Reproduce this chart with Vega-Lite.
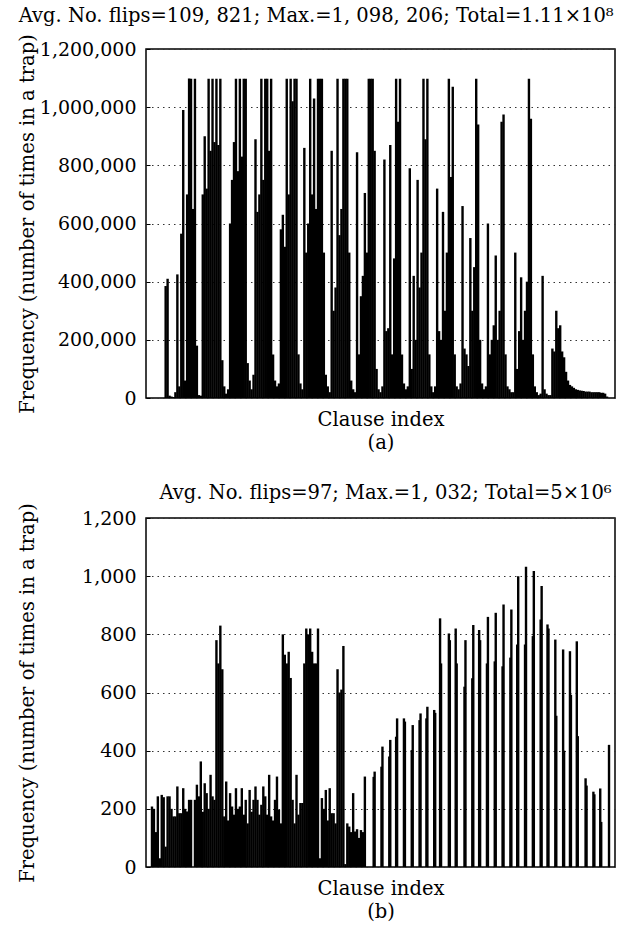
{
  "$schema": "https://vega.github.io/schema/vega-lite/v6.json",
  "background": "white",
  "padding": {"left": 16, "top": 5, "right": 10, "bottom": 4},
  "config": {
    "font": "DejaVu Serif",
    "view": {"stroke": "black", "strokeWidth": 1.5},
    "axis": {"labelFont": "DejaVu Serif", "titleFont": "DejaVu Serif", "labelColor": "black", "titleColor": "black", "titleFontWeight": "normal", "domain": false},
    "title": {"font": "DejaVu Serif", "fontSize": 19.5, "fontWeight": "normal", "color": "black", "anchor": "middle"},
    "concat": {"spacing": 29}
  },
  "datasets": {
    "a": [
      {"clause":1,"flips":0},{"clause":3,"flips":0},{"clause":5,"flips":0},{"clause":7,"flips":0},{"clause":9,"flips":0},{"clause":11,"flips":0},{"clause":13,"flips":0},
      {"clause":15,"flips":385000},{"clause":17,"flips":410000},{"clause":19,"flips":8000},{"clause":21,"flips":5000},{"clause":23,"flips":3000},{"clause":25,"flips":20000},{"clause":27,"flips":425000},{"clause":29,"flips":40000},{"clause":31,"flips":565000},{"clause":33,"flips":990000},{"clause":35,"flips":60000},{"clause":37,"flips":700000},{"clause":39,"flips":1098206},{"clause":41,"flips":1098000},{"clause":43,"flips":650000},{"clause":45,"flips":1098000},{"clause":47,"flips":180000},{"clause":49,"flips":10000},{"clause":51,"flips":8000},
      {"clause":53,"flips":700000},{"clause":55,"flips":900000},{"clause":57,"flips":720000},{"clause":59,"flips":1098000},{"clause":61,"flips":850000},{"clause":63,"flips":1098000},{"clause":65,"flips":880000},{"clause":67,"flips":1098000},{"clause":69,"flips":870000},{"clause":71,"flips":1098000},
      {"clause":73,"flips":130000},{"clause":75,"flips":40000},{"clause":77,"flips":15000},{"clause":79,"flips":30000},
      {"clause":81,"flips":600000},{"clause":83,"flips":750000},{"clause":85,"flips":880000},{"clause":87,"flips":1098000},{"clause":89,"flips":780000},{"clause":91,"flips":1098000},{"clause":93,"flips":830000},{"clause":95,"flips":1098000},{"clause":97,"flips":1098000},
      {"clause":99,"flips":120000},{"clause":101,"flips":60000},{"clause":103,"flips":30000},{"clause":105,"flips":80000},
      {"clause":107,"flips":890000},{"clause":109,"flips":640000},{"clause":111,"flips":700000},{"clause":113,"flips":1098000},{"clause":115,"flips":750000},{"clause":117,"flips":1098000},{"clause":119,"flips":1098000},{"clause":121,"flips":850000},{"clause":123,"flips":1098000},
      {"clause":125,"flips":150000},{"clause":127,"flips":60000},{"clause":129,"flips":40000},{"clause":131,"flips":50000},
      {"clause":133,"flips":580000},{"clause":135,"flips":630000},{"clause":137,"flips":520000},{"clause":139,"flips":1098000},{"clause":141,"flips":700000},{"clause":143,"flips":1098000},{"clause":145,"flips":1020000},{"clause":147,"flips":1098000},{"clause":149,"flips":1098000},
      {"clause":151,"flips":150000},{"clause":153,"flips":50000},{"clause":155,"flips":30000},
      {"clause":157,"flips":860000},{"clause":159,"flips":500000},{"clause":161,"flips":600000},{"clause":163,"flips":1098000},{"clause":165,"flips":700000},{"clause":167,"flips":1030000},{"clause":169,"flips":650000},{"clause":171,"flips":1098000},{"clause":173,"flips":1098000},{"clause":175,"flips":1098000},{"clause":177,"flips":500000},
      {"clause":179,"flips":80000},{"clause":181,"flips":40000},{"clause":183,"flips":20000},
      {"clause":185,"flips":850000},{"clause":187,"flips":300000},{"clause":189,"flips":380000},{"clause":191,"flips":1098000},{"clause":193,"flips":560000},{"clause":195,"flips":650000},{"clause":197,"flips":1098000},{"clause":199,"flips":1098000},{"clause":201,"flips":1098000},{"clause":203,"flips":500000},
      {"clause":205,"flips":60000},{"clause":207,"flips":30000},{"clause":209,"flips":20000},
      {"clause":211,"flips":845000},{"clause":213,"flips":150000},{"clause":215,"flips":350000},{"clause":217,"flips":420000},{"clause":219,"flips":705000},{"clause":221,"flips":500000},{"clause":223,"flips":1098000},{"clause":225,"flips":1098000},{"clause":227,"flips":1098000},{"clause":229,"flips":850000},
      {"clause":231,"flips":100000},{"clause":233,"flips":30000},{"clause":235,"flips":20000},{"clause":237,"flips":40000},
      {"clause":239,"flips":820000},{"clause":241,"flips":230000},{"clause":243,"flips":240000},{"clause":245,"flips":870000},{"clause":247,"flips":150000},{"clause":249,"flips":480000},{"clause":251,"flips":1098000},{"clause":253,"flips":950000},{"clause":255,"flips":1098000},
      {"clause":257,"flips":150000},{"clause":259,"flips":50000},{"clause":261,"flips":30000},{"clause":263,"flips":40000},
      {"clause":265,"flips":790000},{"clause":267,"flips":100000},{"clause":269,"flips":420000},{"clause":271,"flips":200000},{"clause":273,"flips":750000},{"clause":275,"flips":380000},{"clause":277,"flips":500000},{"clause":279,"flips":1098000},{"clause":281,"flips":890000},{"clause":283,"flips":1098000},
      {"clause":285,"flips":150000},{"clause":287,"flips":40000},{"clause":289,"flips":20000},{"clause":291,"flips":40000},
      {"clause":293,"flips":720000},{"clause":295,"flips":230000},{"clause":297,"flips":200000},{"clause":299,"flips":640000},{"clause":301,"flips":300000},{"clause":303,"flips":500000},{"clause":305,"flips":1098000},{"clause":307,"flips":760000},{"clause":309,"flips":1070000},
      {"clause":311,"flips":150000},{"clause":313,"flips":40000},{"clause":315,"flips":30000},{"clause":317,"flips":50000},
      {"clause":319,"flips":660000},{"clause":321,"flips":170000},{"clause":323,"flips":150000},{"clause":325,"flips":110000},{"clause":327,"flips":550000},{"clause":329,"flips":300000},{"clause":331,"flips":450000},{"clause":333,"flips":1098000},{"clause":335,"flips":940000},
      {"clause":337,"flips":200000},{"clause":339,"flips":50000},{"clause":341,"flips":30000},{"clause":343,"flips":40000},
      {"clause":345,"flips":600000},{"clause":347,"flips":150000},{"clause":349,"flips":200000},{"clause":351,"flips":250000},{"clause":353,"flips":490000},{"clause":355,"flips":200000},{"clause":357,"flips":300000},{"clause":359,"flips":950000},{"clause":361,"flips":975000},
      {"clause":363,"flips":150000},{"clause":365,"flips":40000},{"clause":367,"flips":30000},{"clause":369,"flips":20000},{"clause":371,"flips":20000},
      {"clause":373,"flips":500000},{"clause":375,"flips":100000},{"clause":377,"flips":230000},{"clause":379,"flips":415000},{"clause":381,"flips":200000},{"clause":383,"flips":300000},{"clause":385,"flips":400000},{"clause":387,"flips":1098000},{"clause":389,"flips":960000},
      {"clause":391,"flips":150000},{"clause":393,"flips":40000},{"clause":395,"flips":20000},{"clause":397,"flips":10000},{"clause":399,"flips":15000},
      {"clause":401,"flips":420000},{"clause":403,"flips":30000},{"clause":405,"flips":15000},{"clause":407,"flips":10000},{"clause":409,"flips":10000},
      {"clause":411,"flips":170000},{"clause":413,"flips":160000},{"clause":415,"flips":300000},{"clause":417,"flips":240000},{"clause":419,"flips":250000},{"clause":421,"flips":160000},{"clause":423,"flips":140000},
      {"clause":425,"flips":90000},{"clause":427,"flips":60000},{"clause":429,"flips":45000},{"clause":431,"flips":40000},{"clause":433,"flips":35000},{"clause":435,"flips":30000},{"clause":437,"flips":28000},{"clause":439,"flips":26000},{"clause":441,"flips":25000},{"clause":443,"flips":24000},{"clause":445,"flips":22000},{"clause":447,"flips":22000},{"clause":449,"flips":22000},{"clause":451,"flips":20000},{"clause":453,"flips":20000},{"clause":455,"flips":20000},{"clause":457,"flips":20000},{"clause":459,"flips":20000},{"clause":461,"flips":18000},{"clause":463,"flips":18000},{"clause":465,"flips":15000},{"clause":467,"flips":5000},{"clause":469,"flips":0}
    ],
    "b": [
      {"clause":1,"flips":208},{"clause":3,"flips":200},{"clause":5,"flips":120},{"clause":7,"flips":243},{"clause":9,"flips":30},{"clause":11,"flips":248},{"clause":13,"flips":240},{"clause":15,"flips":70},{"clause":17,"flips":243},{"clause":19,"flips":243},{"clause":21,"flips":200},{"clause":23,"flips":174},{"clause":25,"flips":174},{"clause":27,"flips":277},{"clause":29,"flips":185},{"clause":31,"flips":185},{"clause":33,"flips":271},{"clause":35,"flips":200},{"clause":37,"flips":191},{"clause":39,"flips":231},{"clause":41,"flips":231},{"clause":43,"flips":0},{"clause":45,"flips":231},{"clause":47,"flips":283},{"clause":49,"flips":243},{"clause":51,"flips":363},{"clause":53,"flips":190},{"clause":55,"flips":288},{"clause":57,"flips":254},{"clause":59,"flips":200},{"clause":61,"flips":317},{"clause":63,"flips":243},{"clause":65,"flips":231},
      {"clause":67,"flips":780},{"clause":69,"flips":700},{"clause":71,"flips":830},{"clause":73,"flips":680},
      {"clause":75,"flips":174},{"clause":77,"flips":294},{"clause":79,"flips":160},{"clause":81,"flips":254},{"clause":83,"flips":208},{"clause":85,"flips":180},{"clause":87,"flips":271},{"clause":89,"flips":200},{"clause":91,"flips":208},{"clause":93,"flips":271},{"clause":95,"flips":180},{"clause":97,"flips":231},{"clause":99,"flips":150},{"clause":101,"flips":265},{"clause":103,"flips":190},{"clause":105,"flips":231},{"clause":107,"flips":277},{"clause":109,"flips":231},{"clause":111,"flips":180},{"clause":113,"flips":214},{"clause":115,"flips":277},{"clause":117,"flips":243},{"clause":119,"flips":180},{"clause":121,"flips":317},{"clause":123,"flips":174},{"clause":125,"flips":160},{"clause":127,"flips":231},{"clause":129,"flips":311},{"clause":131,"flips":197},{"clause":133,"flips":150},
      {"clause":135,"flips":800},{"clause":137,"flips":730},{"clause":139,"flips":700},{"clause":141,"flips":740},{"clause":143,"flips":650},
      {"clause":145,"flips":231},{"clause":147,"flips":150},{"clause":149,"flips":317},{"clause":151,"flips":180},{"clause":153,"flips":220},{"clause":155,"flips":220},
      {"clause":157,"flips":700},{"clause":159,"flips":820},{"clause":161,"flips":800},{"clause":163,"flips":820},{"clause":165,"flips":740},{"clause":167,"flips":700},{"clause":169,"flips":700},{"clause":171,"flips":820},
      {"clause":173,"flips":30},{"clause":175,"flips":237},{"clause":177,"flips":200},{"clause":179,"flips":265},{"clause":181,"flips":160},{"clause":183,"flips":271},{"clause":185,"flips":185},{"clause":187,"flips":185},{"clause":189,"flips":150},
      {"clause":191,"flips":680},{"clause":193,"flips":600},{"clause":195,"flips":610},{"clause":197,"flips":760},
      {"clause":199,"flips":10},{"clause":201,"flips":150},{"clause":203,"flips":139},{"clause":205,"flips":120},{"clause":207,"flips":254},{"clause":209,"flips":122},{"clause":211,"flips":130},{"clause":213,"flips":100},{"clause":215,"flips":127},{"clause":217,"flips":120},{"clause":219,"flips":311},
      {"clause":228,"flips":310},{"clause":229,"flips":328},
      {"clause":236,"flips":345},{"clause":237,"flips":414},
      {"clause":244,"flips":380},{"clause":245,"flips":437},
      {"clause":251,"flips":448},{"clause":252,"flips":511},
      {"clause":259,"flips":511},{"clause":260,"flips":500},
      {"clause":267,"flips":402},{"clause":268,"flips":488},
      {"clause":275,"flips":505},{"clause":276,"flips":528},
      {"clause":282,"flips":511},{"clause":283,"flips":551},
      {"clause":290,"flips":540},{"clause":291,"flips":530},
      {"clause":296,"flips":855},{"clause":297,"flips":700},
      {"clause":305,"flips":803},{"clause":306,"flips":780},
      {"clause":312,"flips":820},{"clause":313,"flips":700},
      {"clause":321,"flips":620},{"clause":322,"flips":780},
      {"clause":329,"flips":649},{"clause":330,"flips":832},
      {"clause":336,"flips":815},{"clause":337,"flips":780},
      {"clause":344,"flips":700},{"clause":345,"flips":860},
      {"clause":352,"flips":707},{"clause":353,"flips":874},
      {"clause":360,"flips":690},{"clause":361,"flips":903},
      {"clause":368,"flips":720},{"clause":369,"flips":885},
      {"clause":375,"flips":765},{"clause":376,"flips":1000},
      {"clause":383,"flips":765},{"clause":384,"flips":1032},
      {"clause":391,"flips":794},{"clause":392,"flips":1018},
      {"clause":399,"flips":851},{"clause":400,"flips":966},
      {"clause":406,"flips":834},{"clause":407,"flips":820},
      {"clause":414,"flips":782},{"clause":415,"flips":520},
      {"clause":422,"flips":748},{"clause":423,"flips":400},
      {"clause":429,"flips":742},{"clause":430,"flips":592},
      {"clause":436,"flips":776},{"clause":437,"flips":450},
      {"clause":445,"flips":305},{"clause":446,"flips":280},
      {"clause":453,"flips":259},{"clause":454,"flips":250},
      {"clause":460,"flips":270},{"clause":461,"flips":155},
      {"clause":469,"flips":420}
    ]
  },
  "vconcat": [
    {
      "title": {"text": "Avg. No. flips=109, 821; Max.=1, 098, 206; Total=1.11×10⁸", "frame": "bounds", "offset": 7},
      "width": 469,
      "height": 349,
      "data": {"name": "a"},
      "mark": {"type": "bar", "width": 2.4, "color": "black"},
      "encoding": {
        "x": {"field": "clause", "type": "quantitative", "scale": {"domain": [0, 470], "nice": false, "zero": false},
              "axis": {"title": ["Clause index", "(a)"], "labels": false, "ticks": false, "grid": false, "titlePadding": 12, "titleLineHeight": 23, "titleFontSize": 19.5}},
        "y": {"field": "flips", "type": "quantitative", "scale": {"domain": [0, 1200000], "nice": false},
              "axis": {"title": "Frequency (number of times in a trap)", "values": [0, 200000, 400000, 600000, 800000, 1000000, 1200000], "format": ",.0f", "labelFontSize": 19, "tickSize": -4, "tickColor": "black", "labelPadding": 14, "grid": true, "gridDash": [1.5, 4], "gridColor": "#333", "gridWidth": 1, "titlePadding": 2, "titleFontSize": 19.5}}
      }
    },
    {
      "title": {"text": "Avg. No. flips=97; Max.=1, 032; Total=5×10⁶", "frame": "group", "dx": 5, "offset": -1},
      "width": 469,
      "height": 349,
      "data": {"name": "b"},
      "mark": {"type": "bar", "width": 2.4, "color": "black"},
      "encoding": {
        "x": {"field": "clause", "type": "quantitative", "scale": {"domain": [0, 470], "nice": false, "zero": false},
              "axis": {"title": ["Clause index", "(b)"], "labels": false, "ticks": false, "grid": false, "titlePadding": 12, "titleLineHeight": 23, "titleFontSize": 19.5}},
        "y": {"field": "flips", "type": "quantitative", "scale": {"domain": [0, 1200], "nice": false},
              "axis": {"title": "Frequency (number of times in a trap)", "values": [0, 200, 400, 600, 800, 1000, 1200], "format": ",.0f", "labelFontSize": 19, "tickSize": -4, "tickColor": "black", "labelPadding": 14, "grid": true, "gridDash": [1.5, 4], "gridColor": "#333", "gridWidth": 1, "titlePadding": 44, "titleFontSize": 19.5}}
      }
    }
  ]
}
